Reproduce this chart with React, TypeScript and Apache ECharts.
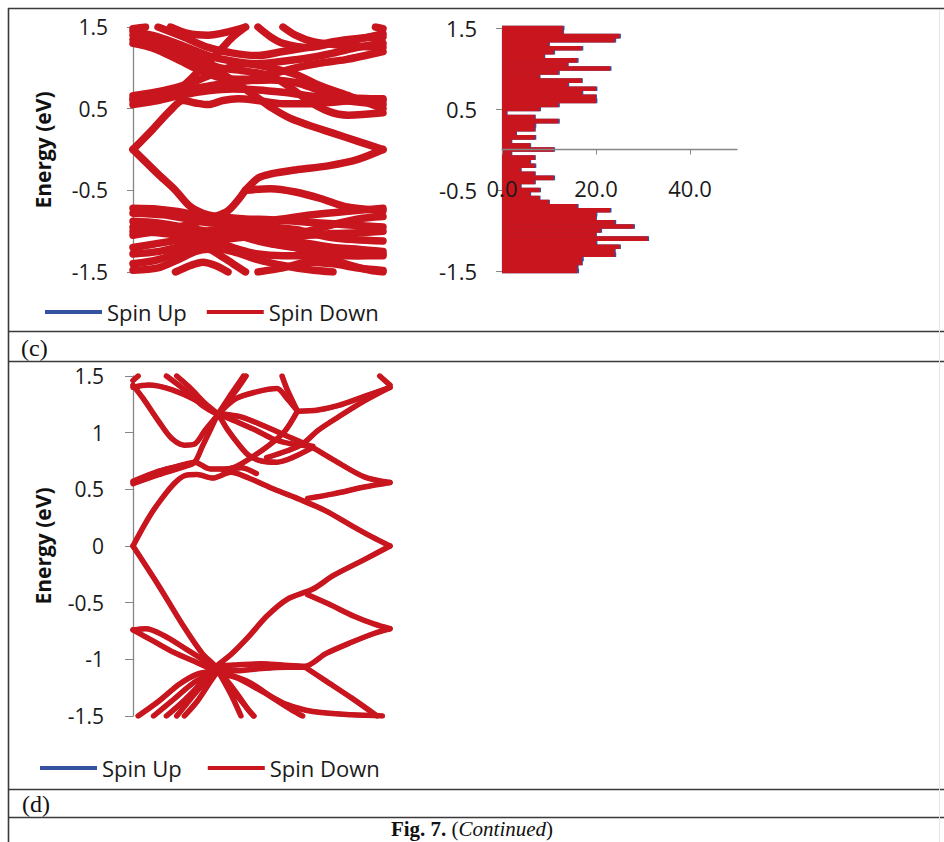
import React, { useEffect, useRef } from "react";
import * as echarts from "echarts";

const RED = "#C8151E";
const BLUE = "#34529F";
const AXIS = "#868686";

// Panel (c) band structure: [k, E] points of each band (k normalised 0..1)
const cBandsUpper: number[][][] = [
  [[0, 0], [0.08, 0.25], [0.15, 0.48], [0.2, 0.6], [0.25, 0.57], [0.3, 0.55], [0.36, 0.6], [0.42, 0.62], [0.5, 0.6], [0.6, 0.56], [0.7, 0.56], [0.8, 0.58], [0.9, 0.6], [1, 0.6]],
  [[1, 0], [0.9, 0.1], [0.8, 0.2], [0.7, 0.3], [0.63, 0.38], [0.56, 0.5], [0.5, 0.63], [0.43, 0.78], [0.36, 0.92], [0.28, 1.03], [0.2, 1.12], [0.1, 1.25], [0, 1.35]],
  [[0, 0.55], [0.1, 0.6], [0.2, 0.67], [0.3, 0.72], [0.4, 0.74], [0.5, 0.73], [0.6, 0.7], [0.7, 0.66], [0.8, 0.62], [0.9, 0.58], [1, 0.55]],
  [[0, 0.62], [0.1, 0.66], [0.2, 0.72], [0.27, 0.76], [0.35, 0.8], [0.45, 0.84], [0.55, 0.85], [0.65, 0.82], [0.75, 0.72], [0.85, 0.64], [1, 0.62]],
  [[0, 0.66], [0.12, 0.72], [0.22, 0.8], [0.3, 0.9], [0.38, 1.0], [0.45, 1.05], [0.55, 1.0], [0.65, 0.92], [0.75, 0.78], [0.87, 0.65], [1, 0.5]],
  [[0, 1.4], [0.1, 1.3], [0.2, 1.18], [0.28, 1.08], [0.35, 1.0], [0.45, 0.96], [0.55, 0.9], [0.62, 0.78], [0.7, 0.6], [0.78, 0.47], [0.86, 0.42], [1, 0.45]],
  [[0, 1.45], [0.1, 1.38], [0.2, 1.27], [0.3, 1.15], [0.4, 1.08], [0.5, 1.05], [0.6, 1.08], [0.7, 1.12], [0.8, 1.18], [0.9, 1.25], [1, 1.3]],
  [[0, 1.3], [0.08, 1.24], [0.18, 1.1], [0.26, 0.98], [0.35, 0.88], [0.45, 0.86], [0.55, 0.92], [0.65, 1.0], [0.75, 1.06], [0.85, 1.1], [1, 1.2]],
  [[0.15, 1.5], [0.22, 1.42], [0.3, 1.4], [0.38, 1.44], [0.45, 1.5]],
  [[0.45, 1.5], [0.4, 1.38], [0.35, 1.22], [0.3, 1.06], [0.25, 0.92], [0.2, 0.78], [0.15, 0.7], [0.08, 0.65], [0, 0.6]],
  [[0.1, 1.5], [0.2, 1.38], [0.3, 1.25], [0.4, 1.18], [0.5, 1.15], [0.6, 1.2], [0.7, 1.25], [0.8, 1.32], [0.9, 1.36], [1, 1.38]],
  [[0.5, 1.5], [0.55, 1.38], [0.6, 1.3], [0.7, 1.25], [0.8, 1.3], [0.9, 1.35], [1, 1.42]],
  [[0.6, 1.5], [0.65, 1.4], [0.72, 1.32], [0.82, 1.28], [0.92, 1.26], [1, 1.25]],
  [[0.97, 1.5], [1, 1.48]],
  [[0, 1.48], [0.05, 1.5]],
];

const cBandsLower: number[][][] = [
  [[0, 0], [0.1, -0.3], [0.17, -0.5], [0.23, -0.7], [0.3, -0.8], [0.37, -0.83], [0.45, -0.85], [0.55, -0.86], [0.65, -0.88], [0.75, -0.9], [0.85, -0.92], [1, -0.95]],
  [[1, 0], [0.9, -0.12], [0.78, -0.2], [0.65, -0.25], [0.55, -0.3], [0.5, -0.35], [0.45, -0.5], [0.42, -0.62], [0.38, -0.75], [0.33, -0.82], [0.27, -0.88], [0.18, -0.95], [0.1, -1.0], [0, -1.05]],
  [[0.45, -0.5], [0.55, -0.48], [0.65, -0.52], [0.75, -0.6], [0.85, -0.7], [1, -0.75]],
  [[0, -0.72], [0.1, -0.73], [0.2, -0.77], [0.3, -0.85], [0.4, -0.95], [0.5, -1.0], [0.6, -1.02], [0.7, -1.0], [0.8, -0.92], [0.9, -0.85], [1, -0.82]],
  [[0, -0.78], [0.12, -0.8], [0.22, -0.85], [0.32, -0.9], [0.42, -0.9], [0.52, -0.88], [0.62, -0.84], [0.72, -0.8], [0.85, -0.76], [1, -0.72]],
  [[0, -0.88], [0.1, -0.9], [0.2, -0.95], [0.3, -1.0], [0.4, -1.02], [0.5, -1.03], [0.6, -1.05], [0.7, -1.05], [0.8, -1.03], [0.9, -1.02], [1, -1.0]],
  [[0, -0.95], [0.1, -0.98], [0.2, -1.0], [0.28, -1.05], [0.35, -1.1], [0.42, -1.08], [0.5, -1.05], [0.6, -1.1], [0.7, -1.15], [0.8, -1.2], [0.9, -1.22], [1, -1.25]],
  [[0, -1.0], [0.1, -1.02], [0.2, -1.05], [0.3, -1.0], [0.38, -0.95], [0.45, -0.92], [0.55, -0.95], [0.65, -0.98], [0.8, -1.08], [1, -1.12]],
  [[0, -1.2], [0.1, -1.15], [0.2, -1.1], [0.3, -1.05], [0.4, -1.05], [0.5, -1.12], [0.6, -1.18], [0.7, -1.22], [0.8, -1.28], [0.9, -1.3], [1, -1.3]],
  [[0, -1.28], [0.1, -1.25], [0.2, -1.18], [0.28, -1.13], [0.35, -1.15], [0.42, -1.22], [0.5, -1.28], [0.6, -1.3], [0.75, -1.3], [0.9, -1.3], [1, -1.28]],
  [[0, -1.4], [0.1, -1.35], [0.2, -1.25], [0.3, -1.2], [0.4, -1.25], [0.5, -1.35], [0.6, -1.42], [0.7, -1.47], [0.8, -1.5]],
  [[0, -1.48], [0.1, -1.45], [0.18, -1.35], [0.25, -1.25], [0.3, -1.22], [0.35, -1.3], [0.4, -1.4], [0.45, -1.5]],
  [[0.17, -1.5], [0.23, -1.42], [0.28, -1.38], [0.33, -1.42], [0.38, -1.5]],
  [[0.5, -1.5], [0.6, -1.45], [0.7, -1.38], [0.8, -1.4], [0.9, -1.45], [1, -1.48]],
  [[0.55, -1.15], [0.65, -1.2], [0.75, -1.3], [0.85, -1.4], [0.95, -1.48], [1, -1.5]],
];

// Panel (d) band structure
const dBandsUpper: number[][][] = [
  [[0, 0], [0.09, 0.35], [0.2, 0.62], [0.25, 0.63], [0.31, 0.6], [0.38, 0.65], [0.45, 0.6], [0.55, 0.5], [0.65, 0.41], [0.75, 0.31], [0.85, 0.18], [0.93, 0.08], [1, 0]],
  [[0.68, 0.42], [0.78, 0.46], [0.9, 0.52], [1, 0.56]],
  [[0.33, 1.17], [0.42, 1.14], [0.52, 1.05], [0.61, 0.96], [0.69, 0.88], [0.78, 0.76], [0.9, 0.61], [1, 0.56]],
  [[0, 0.55], [0.1, 0.63], [0.2, 0.7], [0.24, 0.74], [0.27, 0.88], [0.3, 1.02], [0.33, 1.16], [0.37, 1.28], [0.41, 1.4], [0.44, 1.5]],
  [[0, 0.57], [0.1, 0.66], [0.2, 0.72], [0.24, 0.74], [0.3, 0.68], [0.36, 0.68], [0.42, 0.69], [0.48, 0.64]],
  [[0, 1.42], [0.04, 1.3], [0.1, 1.1], [0.15, 0.95], [0.2, 0.89], [0.24, 0.9], [0.28, 1.02], [0.33, 1.16], [0.37, 1.3], [0.4, 1.4], [0.43, 1.5]],
  [[0, 1.4], [0.06, 1.42], [0.15, 1.38], [0.25, 1.28], [0.33, 1.17], [0.4, 1.1], [0.48, 1.02], [0.55, 0.94], [0.62, 0.9], [0.7, 0.88]],
  [[0.17, 1.5], [0.22, 1.4], [0.28, 1.26], [0.33, 1.16], [0.37, 1.02], [0.41, 0.9], [0.45, 0.8], [0.5, 0.75], [0.56, 0.74], [0.62, 0.78], [0.7, 0.87]],
  [[0.13, 1.5], [0.2, 1.38], [0.27, 1.24], [0.33, 1.16]],
  [[0.02, 1.5], [0, 1.46]],
  [[0.33, 1.16], [0.4, 1.3], [0.48, 1.36], [0.56, 1.39], [0.6, 1.3], [0.64, 1.19]],
  [[0.58, 1.5], [0.6, 1.38], [0.64, 1.19]],
  [[0.64, 1.19], [0.72, 1.2], [0.8, 1.24], [0.9, 1.32], [1, 1.4]],
  [[0.64, 1.19], [0.59, 1.01], [0.53, 0.89], [0.46, 0.78], [0.4, 0.7], [0.35, 0.67]],
  [[1, 1.4], [0.9, 1.28], [0.8, 1.14], [0.72, 1.02], [0.66, 0.9], [0.6, 0.84], [0.52, 0.78]],
  [[0.96, 1.5], [1, 1.42]],
];

const dBandsLower: number[][][] = [
  [[0, 0], [0.1, -0.35], [0.2, -0.72], [0.27, -0.95], [0.32, -1.06], [0.38, -1.25], [0.44, -1.42], [0.47, -1.5]],
  [[1, 0], [0.9, -0.12], [0.78, -0.26], [0.7, -0.38], [0.6, -0.47], [0.52, -0.62], [0.45, -0.8], [0.38, -0.96], [0.32, -1.07], [0.27, -1.2], [0.2, -1.36], [0.13, -1.5]],
  [[0.68, -0.43], [0.76, -0.51], [0.86, -0.62], [0.94, -0.69], [1, -0.73]],
  [[0.3, -1.06], [0.4, -1.05], [0.5, -1.04], [0.58, -1.05], [0.67, -1.06], [0.75, -0.95], [0.85, -0.85], [0.94, -0.77], [1, -0.73]],
  [[0.32, -1.1], [0.4, -1.1], [0.5, -1.08], [0.6, -1.07], [0.67, -1.07]],
  [[0.67, -1.07], [0.75, -1.19], [0.85, -1.34], [0.95, -1.5]],
  [[0, -0.74], [0.05, -0.73], [0.12, -0.79], [0.2, -0.9], [0.27, -1.0], [0.32, -1.08]],
  [[0, -0.74], [0.08, -0.84], [0.16, -0.94], [0.25, -1.03], [0.32, -1.1]],
  [[0.32, -1.12], [0.4, -1.16], [0.5, -1.28], [0.6, -1.4], [0.7, -1.46], [0.85, -1.49], [0.97, -1.5]],
  [[0.02, -1.5], [0.1, -1.37], [0.18, -1.22], [0.25, -1.13], [0.32, -1.1]],
  [[0.08, -1.5], [0.16, -1.35], [0.24, -1.2], [0.32, -1.11]],
  [[0.17, -1.5], [0.22, -1.36], [0.28, -1.2], [0.32, -1.12]],
  [[0.2, -1.5], [0.25, -1.37], [0.3, -1.2], [0.33, -1.1]],
  [[0.33, -1.1], [0.37, -1.2], [0.41, -1.32], [0.45, -1.45], [0.47, -1.5]],
  [[0.33, -1.1], [0.36, -1.22], [0.39, -1.35], [0.42, -1.5]],
  [[0.35, -1.12], [0.45, -1.2], [0.55, -1.35], [0.62, -1.45], [0.66, -1.5]],
];

// Panel (c) density of states
const dosEnergy = [
  -1.5, -1.45, -1.4, -1.35, -1.3, -1.25, -1.2, -1.15, -1.1, -1.05, -1.0, -0.95, -0.9, -0.85, -0.8, -0.75,
  -0.7, -0.65, -0.6, -0.55, -0.5, -0.45, -0.4, -0.35, -0.3, -0.25, -0.2, -0.15, -0.1, -0.05, 0,
  0.05, 0.1, 0.15, 0.2, 0.25, 0.3, 0.35, 0.4, 0.45, 0.5, 0.55, 0.6, 0.65, 0.7, 0.75,
  0.8, 0.85, 0.9, 0.95, 1.0, 1.05, 1.1, 1.15, 1.2, 1.25, 1.3, 1.35, 1.4, 1.45, 1.5,
];
const dosSpinDown = [
  16, 16, 17, 17, 24, 24, 25, 20, 31, 20, 21, 28, 24, 20, 20, 23,
  16, 10, 8, 6, 8, 4, 7, 11, 7, 4, 7, 6, 7, 2, 11,
  6, 2, 7, 3, 7, 7, 12, 7, 1, 8, 12, 20, 20, 17, 20,
  14, 17, 8, 12, 23, 14, 16, 9, 11, 17, 10, 24, 25, 13, 13,
];
const dosSpinUp = [
  16.4, 16.3, 17.2, 17.4, 24.3, 24.2, 25.3, 20.3, 31.3, 20.2, 21.3, 28.3, 24.3, 20.2, 20.3, 23.3,
  16.3, 10.2, 8.2, 6.2, 8.3, 4.2, 7.2, 11.3, 7.2, 4.2, 7.3, 6.2, 7.2, 2.2, 11.3,
  6.2, 2.2, 7.3, 3.2, 7.2, 7.3, 12.3, 7.2, 1.2, 8.3, 12.3, 20.3, 20.2, 17.3, 20.3,
  14.3, 17.2, 8.2, 12.3, 23.3, 14.2, 16.3, 9.2, 11.3, 17.3, 10.2, 24.3, 25.3, 13.2, 13.3,
];

const legendNames = ["Spin Up", "Spin Down"];

function bandSeries(bands: number[][][], xi: number, yi: number, name: string, color: string, width: number) {
  return bands.map((b) => ({
    type: "line",
    name,
    xAxisIndex: xi,
    yAxisIndex: yi,
    data: b,
    showSymbol: false,
    symbol: "none",
    smooth: 0.3,
    clip: true,
    silent: true,
    lineStyle: { color, width, cap: "round", join: "round" },
    itemStyle: { color },
  }));
}

const numFont = { fontFamily: "Open Sans", color: "#1a1a1a" };

export default function App() {
  const ref = useRef<HTMLDivElement>(null);
  useEffect(() => {
    if (!ref.current) return;
    const chart = echarts.init(ref.current, null, { renderer: "svg" });
    const cBands = [...cBandsUpper, ...cBandsLower];
    const dBands = [...dBandsUpper, ...dBandsLower];
    const border = (x1: number, y1: number, x2: number, y2: number, stroke = "#3a3a3a", w = 1.6) => ({
      type: "line",
      shape: { x1, y1, x2, y2 },
      style: { stroke, lineWidth: w },
      silent: true,
    });
    const legendBase = {
      data: legendNames,
      icon: "rect",
      itemWidth: 57,
      itemHeight: 4,
      selectedMode: false,
      textStyle: { fontFamily: "Open Sans", fontSize: 22, color: "#1a1a1a" },
    };
    const option: any = {
      animation: false,
      backgroundColor: "#ffffff",
      grid: [
        { left: 133, top: 27, width: 250, height: 245 },
        { left: 502, top: 28, width: 235, height: 243 },
        { left: 133, top: 376, width: 257, height: 340 },
        { left: 502, top: 28, width: 235, height: 121.5 },
      ],
      xAxis: [
        { gridIndex: 0, type: "value", min: 0, max: 1, show: false },
        { gridIndex: 1, type: "value", min: 0, max: 50, show: false },
        { gridIndex: 2, type: "value", min: 0, max: 1, show: false },
        {
          gridIndex: 3,
          type: "value",
          min: 0,
          max: 50,
          interval: 20,
          z: 10,
          axisLine: { show: true, onZero: false, lineStyle: { color: AXIS, width: 1.3 } },
          axisTick: { show: true, length: 5, lineStyle: { color: AXIS } },
          axisLabel: { margin: 27, fontSize: 22, ...numFont, showMaxLabel: false, formatter: (v: number) => v.toFixed(1) },
          splitLine: { show: false },
        },
      ],
      yAxis: [
        {
          gridIndex: 0,
          type: "value",
          min: -1.5,
          max: 1.5,
          interval: 1,
          axisLine: { show: true, lineStyle: { color: AXIS, width: 1.3 } },
          axisTick: { show: true, length: 6, lineStyle: { color: AXIS } },
          axisLabel: { margin: 25, fontSize: 21, ...numFont },
          splitLine: { show: false },
        },
        {
          gridIndex: 1,
          type: "value",
          position: "left",
          min: -1.5,
          max: 1.5,
          interval: 1,
          axisLine: { show: true, onZero: false, lineStyle: { color: AXIS, width: 1.3 } },
          axisTick: { show: true, length: 6, lineStyle: { color: AXIS } },
          axisLabel: { margin: 25, fontSize: 22, ...numFont },
          splitLine: { show: false },
        },
        {
          gridIndex: 1,
          type: "category",
          position: "left",
          data: dosEnergy.map(String),
          boundaryGap: false,
          show: false,
        },
        {
          gridIndex: 2,
          type: "value",
          min: -1.5,
          max: 1.5,
          interval: 0.5,
          axisLine: { show: true, lineStyle: { color: AXIS, width: 1.3 } },
          axisTick: { show: true, length: 8, lineStyle: { color: AXIS } },
          axisLabel: { margin: 29, fontSize: 21, ...numFont },
          splitLine: { show: false },
        },
        { gridIndex: 3, type: "value", min: 0, max: 1.5, show: false },
      ],
      legend: [
        { ...legendBase, left: 40, top: 296, itemGap: 20 },
        { ...legendBase, left: 35, top: 752, itemGap: 26 },
      ],
      series: [
        ...bandSeries(cBands, 0, 0, "Spin Up", BLUE, 6),
        ...bandSeries(cBands, 0, 0, "Spin Down", RED, 7.5),
        ...bandSeries(dBands, 2, 3, "Spin Up", BLUE, 4.5),
        ...bandSeries(dBands, 2, 3, "Spin Down", RED, 5.5),
        {
          type: "bar",
          name: "Spin Up",
          xAxisIndex: 1,
          yAxisIndex: 2,
          data: dosSpinUp,
          barGap: "-100%",
          barWidth: 4.6,
          itemStyle: { color: BLUE },
          silent: true,
        },
        {
          type: "bar",
          name: "Spin Down",
          xAxisIndex: 1,
          yAxisIndex: 2,
          data: dosSpinDown,
          barGap: "-100%",
          barWidth: 4.6,
          itemStyle: { color: RED },
          silent: true,
        },
      ],
      graphic: [
        border(8, 8.5, 944, 8.5),
        border(8.5, 8, 8.5, 842),
        border(8, 331.5, 944, 331.5),
        border(8, 361.5, 944, 361.5),
        border(8, 789.5, 944, 789.5),
        border(8, 817.5, 944, 817.5),
        border(939.5, 10, 939.5, 842, "#e4e4e4", 1),
        {
          type: "text",
          x: 43,
          y: 150,
          rotation: Math.PI / 2,
          style: { text: "Energy (eV)", font: 'bold 21px "Open Sans"', fill: "#111", align: "center", verticalAlign: "middle" },
          silent: true,
        },
        {
          type: "text",
          x: 43,
          y: 546,
          rotation: Math.PI / 2,
          style: { text: "Energy (eV)", font: 'bold 21px "Open Sans"', fill: "#111", align: "center", verticalAlign: "middle" },
          silent: true,
        },
        {
          type: "text",
          x: 21,
          y: 348,
          style: { text: "(c)", font: '24px "Liberation Serif"', fill: "#111", align: "left", verticalAlign: "middle" },
          silent: true,
        },
        {
          type: "text",
          x: 22,
          y: 804,
          style: { text: "(d)", font: '24px "Liberation Serif"', fill: "#111", align: "left", verticalAlign: "middle" },
          silent: true,
        },
        {
          type: "text",
          x: 472,
          y: 829,
          style: {
            text: "{b|Fig. 7.} ({i|Continued})",
            font: '21px "Liberation Serif"',
            fill: "#111",
            align: "center",
            verticalAlign: "middle",
            rich: {
              b: { fontWeight: "bold", fontFamily: "Liberation Serif", fontSize: 21, fill: "#111" },
              i: { fontStyle: "italic", fontFamily: "Liberation Serif", fontSize: 21, fill: "#111" },
            },
          },
          silent: true,
        },
      ],
    };
    chart.setOption(option);
    return () => chart.dispose();
  }, []);
  return (
    <div
      ref={ref}
      style={{ position: "absolute", left: 0, top: 0, width: 944, height: 842, background: "#fff" }}
    />
  );
}
